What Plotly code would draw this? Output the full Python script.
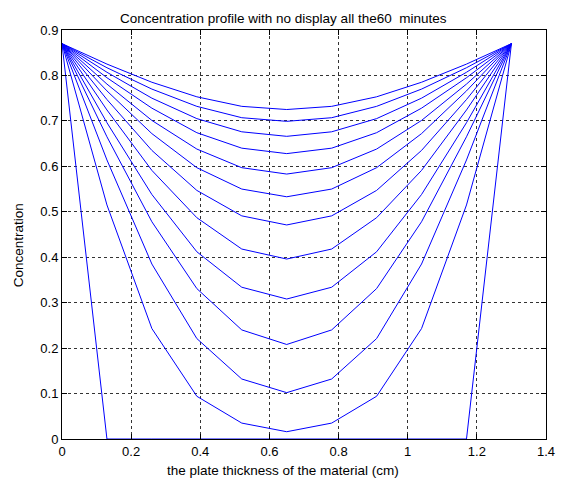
import plotly.graph_objects as go

# Node positions across the plate (cm)
x_nodes = [0, 0.13, 0.26, 0.39, 0.52, 0.65, 0.78, 0.91, 1.04, 1.17, 1.3]

# Concentration profiles (one list per displayed time)
c_t0 = [0.87, 0, 0, 0, 0, 0, 0, 0, 0, 0, 0.87]
c_t1 = [0.87, 0.515, 0.243, 0.094, 0.035, 0.016, 0.035, 0.094, 0.243, 0.515, 0.87]
c_t2 = [0.87, 0.614, 0.385, 0.221, 0.132, 0.102, 0.132, 0.221, 0.385, 0.614, 0.87]
c_t3 = [0.87, 0.665, 0.478, 0.331, 0.240, 0.208, 0.240, 0.331, 0.478, 0.665, 0.87]
c_t4 = [0.87, 0.696, 0.538, 0.412, 0.334, 0.308, 0.334, 0.412, 0.538, 0.696, 0.87]
c_t5 = [0.87, 0.724, 0.591, 0.487, 0.418, 0.396, 0.418, 0.487, 0.591, 0.724, 0.87]
c_t6 = [0.87, 0.747, 0.635, 0.547, 0.491, 0.471, 0.491, 0.547, 0.635, 0.747, 0.87]
c_t7 = [0.87, 0.766, 0.672, 0.597, 0.550, 0.533, 0.550, 0.597, 0.672, 0.766, 0.87]
c_t8 = [0.87, 0.781, 0.701, 0.638, 0.597, 0.583, 0.597, 0.638, 0.701, 0.781, 0.87]
c_t9 = [0.87, 0.795, 0.728, 0.674, 0.640, 0.628, 0.640, 0.674, 0.728, 0.795, 0.87]
c_t10 = [0.87, 0.807, 0.750, 0.705, 0.676, 0.666, 0.676, 0.705, 0.750, 0.807, 0.87]
c_t11 = [0.87, 0.817, 0.770, 0.732, 0.707, 0.699, 0.707, 0.732, 0.770, 0.817, 0.87]
c_t12 = [0.87, 0.825, 0.785, 0.753, 0.732, 0.725, 0.732, 0.753, 0.785, 0.825, 0.87]

profiles = [c_t0, c_t1, c_t2, c_t3, c_t4, c_t5, c_t6, c_t7, c_t8, c_t9, c_t10, c_t11, c_t12]

x_ticks = [0, 0.2, 0.4, 0.6, 0.8, 1.0, 1.2, 1.4]
x_tick_text = ["0", "0.2", "0.4", "0.6", "0.8", "1", "1.2", "1.4"]
y_ticks = [0, 0.1, 0.2, 0.3, 0.4, 0.5, 0.6, 0.7, 0.8, 0.9]
y_tick_text = ["0", "0.1", "0.2", "0.3", "0.4", "0.5", "0.6", "0.7", "0.8", "0.9"]

title_text = "Concentration profile with no display all the60 \u00a0minutes"
x_label = "the plate thickness of the material (cm)"
y_label = "Concentration"

fig = go.Figure()
for prof in profiles:
    fig.add_trace(go.Scatter(x=x_nodes, y=prof, mode="lines",
                             line=dict(color="#0000FF", width=1),
                             showlegend=False, hoverinfo="skip"))

font_family = "Liberation Sans, Arial, sans-serif"
axis_common = dict(
    showline=True, linecolor="black", linewidth=1, mirror="ticks",
    ticks="inside", ticklen=5, tickcolor="black", tickwidth=1,
    showgrid=True, gridcolor="rgba(0,0,0,0.8)", gridwidth=1, griddash="3px,3px",
    zeroline=False, ticklabeloverflow="allow",
    tickfont=dict(family=font_family, size=13, color="black"),
)

fig.update_layout(
    width=562, height=481,
    margin=dict(l=62, r=7, t=30, b=42),
    paper_bgcolor="white", plot_bgcolor="white",
    xaxis=dict(range=[0, 1.4], tickvals=x_ticks, ticktext=x_tick_text, **axis_common),
    yaxis=dict(range=[0, 0.9], tickvals=y_ticks, ticktext=y_tick_text, **axis_common),
    annotations=[
        dict(text=title_text, xref="paper", yref="paper", x=0.457, y=1.029,
             xanchor="center", yanchor="middle", showarrow=False,
             font=dict(family=font_family, size=13.5, color="black")),
        dict(text=x_label, xref="paper", yref="paper", x=0.457, y=-0.076,
             xanchor="center", yanchor="middle", showarrow=False,
             font=dict(family=font_family, size=13.5, color="black")),
        dict(text=y_label, xref="paper", yref="paper", x=-0.0905, y=0.474,
             xanchor="center", yanchor="middle", showarrow=False, textangle=-90,
             font=dict(family=font_family, size=13.5, color="black")),
    ],
)

fig.write_html("out.html")
